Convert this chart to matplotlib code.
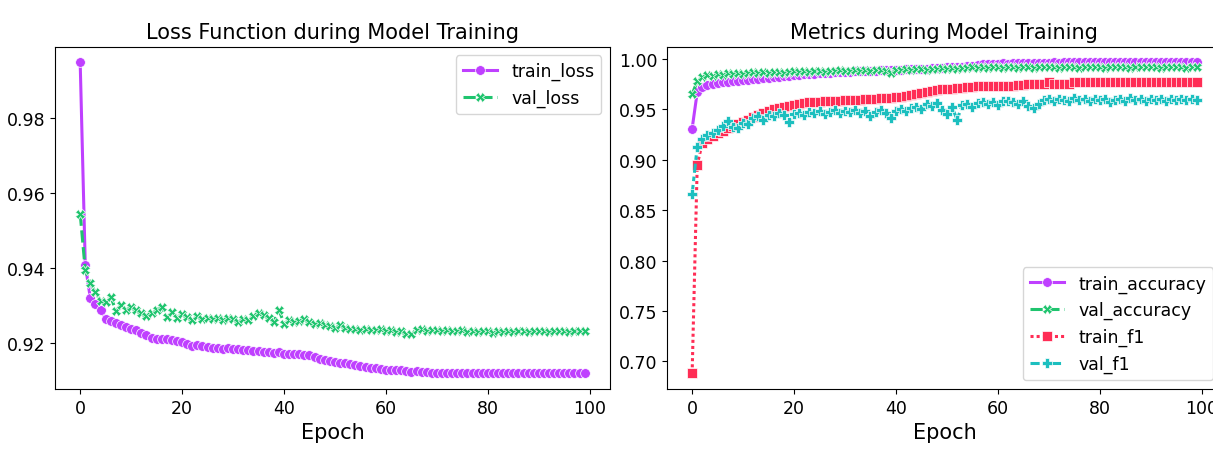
import numpy as np
import matplotlib
matplotlib.use("Agg")
import matplotlib.pyplot as plt

plt.rcParams['font.family'] = ['DejaVu Sans']

epochs = np.arange(100)

train_loss = [
    0.995, 0.941, 0.932, 0.9305, 0.929, 0.9265, 0.926, 0.9255, 0.9248, 0.9245,
    0.9238, 0.9235, 0.9228, 0.9222, 0.9215, 0.9213, 0.9211, 0.9212, 0.9208, 0.9207,
    0.9203, 0.9198, 0.9193, 0.9196, 0.9192, 0.9190, 0.9188, 0.9189, 0.9186, 0.9187,
    0.9185, 0.9184, 0.9182, 0.9183, 0.9180, 0.9181, 0.9177, 0.9178, 0.9174, 0.9176,
    0.9172, 0.9173, 0.9171, 0.9172, 0.9170, 0.9168, 0.9163, 0.9158, 0.9156, 0.9152,
    0.9150, 0.9148, 0.9147, 0.9145, 0.9142, 0.9141, 0.9138, 0.9135, 0.9134, 0.9133,
    0.9130, 0.9130, 0.9128, 0.9129, 0.9127, 0.9125, 0.9126, 0.9124, 0.9125, 0.9122,
    0.9120, 0.9122, 0.9121, 0.9120, 0.9121, 0.9120, 0.9121, 0.9120, 0.9120, 0.9121,
    0.9120, 0.9120, 0.9121, 0.9120, 0.9120, 0.9121, 0.9120, 0.9120, 0.9120, 0.9121,
    0.9120, 0.9120, 0.9121, 0.9120, 0.9120, 0.9120, 0.9121, 0.9120, 0.9120, 0.9120,
]
val_loss = [
    0.9546, 0.9395, 0.9360, 0.9336, 0.9314, 0.9310, 0.9325, 0.9287, 0.9302, 0.9290,
    0.9298, 0.9288, 0.9280, 0.9274, 0.9282, 0.9290, 0.9298, 0.9270, 0.9283, 0.9269,
    0.9279, 0.9270, 0.9262, 0.9272, 0.9266, 0.9268, 0.9265, 0.9267, 0.9263, 0.9268,
    0.9264, 0.9257, 0.9266, 0.9262, 0.9272, 0.9280, 0.9275, 0.9268, 0.9258, 0.9290,
    0.9253, 0.9262, 0.9258, 0.9261, 0.9265, 0.9256, 0.9252, 0.9254, 0.9249, 0.9246,
    0.9240, 0.9248, 0.9242, 0.9238, 0.9239, 0.9236, 0.9238, 0.9237, 0.9236, 0.9238,
    0.9232, 0.9236, 0.9230, 0.9233, 0.9226, 0.9224, 0.9236, 0.9238, 0.9234, 0.9237,
    0.9235, 0.9233, 0.9236, 0.9234, 0.9232, 0.9235, 0.9231, 0.9233, 0.9230, 0.9234,
    0.9232, 0.9229, 0.9233, 0.9231, 0.9234, 0.9230, 0.9232, 0.9234, 0.9231, 0.9233,
    0.9232, 0.9234, 0.9231, 0.9233, 0.9232, 0.9234, 0.9231, 0.9233, 0.9232, 0.9233,
]

train_accuracy = [
    0.931, 0.967, 0.972, 0.974, 0.975, 0.976, 0.977, 0.977, 0.978, 0.978,
    0.979, 0.979, 0.980, 0.980, 0.981, 0.981, 0.982, 0.982, 0.983, 0.983,
    0.984, 0.984, 0.985, 0.985, 0.985, 0.986, 0.986, 0.986, 0.987, 0.987,
    0.987, 0.987, 0.988, 0.988, 0.988, 0.988, 0.988, 0.989, 0.989, 0.989,
    0.989, 0.989, 0.990, 0.990, 0.990, 0.990, 0.990, 0.991, 0.991, 0.991,
    0.992, 0.992, 0.992, 0.992, 0.993, 0.993, 0.994, 0.995, 0.995, 0.995,
    0.995, 0.996, 0.995, 0.996, 0.996, 0.996, 0.996, 0.996, 0.996, 0.996,
    0.996, 0.997, 0.996, 0.997, 0.997, 0.997, 0.997, 0.997, 0.997, 0.997,
    0.997, 0.997, 0.997, 0.997, 0.997, 0.997, 0.997, 0.997, 0.997, 0.997,
    0.997, 0.997, 0.997, 0.997, 0.997, 0.997, 0.997, 0.997, 0.997, 0.997,
]
val_accuracy = [
    0.965, 0.978, 0.982, 0.984, 0.983, 0.985, 0.984, 0.986, 0.985, 0.986,
    0.985, 0.986, 0.987, 0.986, 0.987, 0.986, 0.987, 0.987, 0.986, 0.987,
    0.988, 0.987, 0.988, 0.987, 0.988, 0.988, 0.987, 0.988, 0.988, 0.989,
    0.988, 0.988, 0.989, 0.988, 0.989, 0.988, 0.989, 0.989, 0.988, 0.986,
    0.989, 0.989, 0.990, 0.989, 0.990, 0.990, 0.989, 0.990, 0.990, 0.991,
    0.990, 0.991, 0.990, 0.991, 0.991, 0.992, 0.991, 0.992, 0.991, 0.992,
    0.992, 0.991, 0.992, 0.992, 0.991, 0.992, 0.992, 0.991, 0.992, 0.992,
    0.992, 0.992, 0.991, 0.992, 0.992, 0.992, 0.991, 0.992, 0.992, 0.992,
    0.992, 0.991, 0.992, 0.992, 0.992, 0.992, 0.991, 0.992, 0.992, 0.992,
    0.992, 0.992, 0.991, 0.992, 0.992, 0.992, 0.992, 0.991, 0.992, 0.992,
]
train_f1 = [
    0.688, 0.895, 0.917, 0.921, 0.924, 0.927, 0.929, 0.932, 0.934, 0.936,
    0.938, 0.940, 0.942, 0.944, 0.946, 0.948, 0.950, 0.951, 0.952, 0.953,
    0.954, 0.955, 0.956, 0.957, 0.957, 0.957, 0.958, 0.958, 0.958, 0.958,
    0.959, 0.959, 0.959, 0.959, 0.960, 0.960, 0.960, 0.961, 0.961, 0.961,
    0.962, 0.962, 0.963, 0.964, 0.965, 0.966, 0.967, 0.968, 0.969, 0.970,
    0.970, 0.970, 0.971, 0.971, 0.972, 0.972, 0.973, 0.973, 0.973, 0.973,
    0.973, 0.973, 0.973, 0.973, 0.974, 0.974, 0.975, 0.975, 0.975, 0.975,
    0.977, 0.975, 0.975, 0.975, 0.975, 0.977, 0.977, 0.977, 0.977, 0.977,
    0.977, 0.977, 0.977, 0.977, 0.977, 0.977, 0.977, 0.977, 0.977, 0.977,
    0.977, 0.977, 0.977, 0.977, 0.977, 0.977, 0.977, 0.977, 0.977, 0.977,
]
val_f1 = [
    0.866, 0.913, 0.921, 0.925, 0.927, 0.930, 0.934, 0.939, 0.933, 0.932,
    0.937, 0.936, 0.941, 0.943, 0.940, 0.944, 0.943, 0.946, 0.944, 0.938,
    0.945, 0.946, 0.944, 0.947, 0.946, 0.948, 0.945, 0.947, 0.949, 0.946,
    0.948, 0.947, 0.949, 0.946, 0.948, 0.943, 0.947, 0.949, 0.946, 0.941,
    0.948, 0.950, 0.948, 0.951, 0.952, 0.950, 0.955, 0.953, 0.956, 0.949,
    0.945, 0.952, 0.940, 0.954, 0.955, 0.952, 0.956, 0.957, 0.955, 0.957,
    0.954, 0.958, 0.958, 0.957, 0.955, 0.958, 0.953, 0.951, 0.955, 0.959,
    0.960, 0.958, 0.960, 0.959, 0.958, 0.961, 0.959, 0.960, 0.958, 0.960,
    0.959, 0.960, 0.957, 0.959, 0.960, 0.958, 0.961, 0.959, 0.960, 0.958,
    0.960, 0.959, 0.960, 0.958, 0.960, 0.959, 0.960, 0.959, 0.960, 0.959,
]

purple = '#bf40ff'
green = '#1fc46e'
red = '#ff2d55'
cyan = '#1cbfbf'

lw = 2.2
ms = 7


def draw(ax, y, label, color, marker, dash):
    ax.plot(epochs, y, label=label, color=color, marker=marker, linestyle=dash,
            lw=lw, ms=ms, mec='white', mew=0.5)


fig = plt.figure(figsize=(12.13, 4.52), dpi=100)
ax1 = fig.add_axes([0.0453, 0.1372, 0.4575, 0.7577])
ax2 = fig.add_axes([0.5498, 0.1372, 0.4575, 0.7577])

draw(ax1, train_loss, 'train_loss', purple, 'o', '-')
draw(ax1, val_loss, 'val_loss', green, 'X', (0, (4, 1.5)))
ax1.set_title('Loss Function during Model Training', fontsize=15)
ax1.set_xlabel('Epoch', fontsize=15)
ax1.tick_params(labelsize=12.5)
ax1.legend(loc='upper right', fontsize=12.5)

draw(ax2, train_accuracy, 'train_accuracy', purple, 'o', '-')
draw(ax2, val_accuracy, 'val_accuracy', green, 'X', (0, (4, 1.5)))
draw(ax2, train_f1, 'train_f1', red, 's', (0, (1, 1)))
draw(ax2, val_f1, 'val_f1', cyan, 'P', (0, (3, 1.25, 1.5, 1.25)))
ax2.set_title('Metrics during Model Training', fontsize=15)
ax2.set_xlabel('Epoch', fontsize=15)
ax2.tick_params(labelsize=12.5)
ax2.legend(loc='lower right', fontsize=12.5)

fig.savefig('out.png', dpi=100)
